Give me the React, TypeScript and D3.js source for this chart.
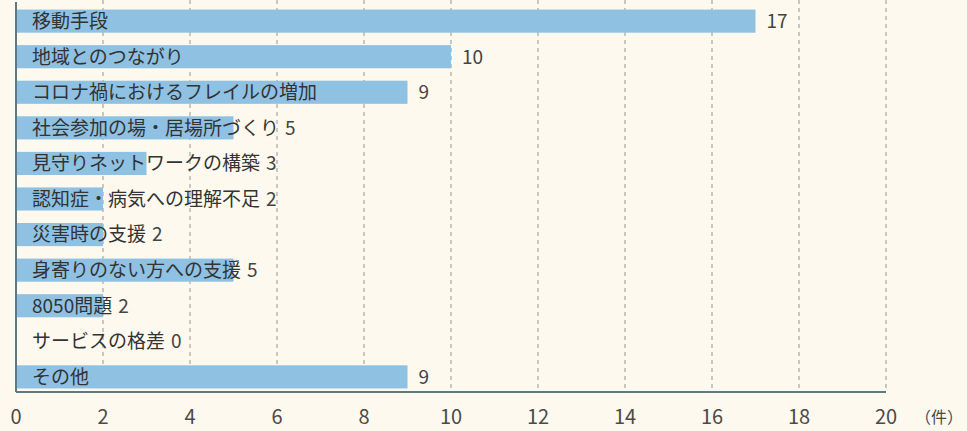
import React, { useEffect, useRef } from "react";
import * as d3 from "d3";

const categories = [
  "移動手段",
  "地域とのつながり",
  "コロナ禍におけるフレイルの増加",
  "社会参加の場・居場所づくり",
  "見守りネットワークの構築",
  "認知症・病気への理解不足",
  "災害時の支援",
  "身寄りのない方への支援",
  "8050問題",
  "サービスの格差",
  "その他",
];
const values = [17, 10, 9, 5, 3, 2, 2, 5, 2, 0, 9];
const xTicks = [0, 2, 4, 6, 8, 10, 12, 14, 16, 18, 20];
const unitLabel = "（件）";

const W = 967;
const H = 431;
const FONT = "'Noto Sans CJK JP', 'Noto Sans', sans-serif";

export default function App() {
  const ref = useRef<SVGSVGElement>(null);

  useEffect(() => {
    const svg = d3.select(ref.current);
    svg.selectAll("*").remove();

    const x = d3.scaleLinear().domain([0, 20]).range([16, 886]);
    const y = d3
      .scaleBand<string>()
      .domain(categories)
      .range([6, 392])
      .paddingInner(0.35)
      .paddingOuter(0.1);

    svg.append("rect").attr("width", W).attr("height", H).attr("fill", "#fdf9ee");

    // gridlines
    svg
      .append("g")
      .selectAll("line")
      .data(xTicks.filter((t) => t > 0))
      .join("line")
      .attr("x1", (d) => x(d))
      .attr("x2", (d) => x(d))
      .attr("y1", 0)
      .attr("y2", 392)
      .attr("stroke", "#a8a8a0")
      .attr("stroke-width", 1.2)
      .attr("stroke-dasharray", "4,4");

    // bars
    svg
      .append("g")
      .selectAll("rect")
      .data(values)
      .join("rect")
      .attr("x", x(0))
      .attr("y", (_d, i) => y(categories[i])!)
      .attr("width", (d) => x(d) - x(0))
      .attr("height", y.bandwidth())
      .attr("fill", "#8fc1e3");

    // axes lines
    svg
      .append("line")
      .attr("x1", x(0))
      .attr("x2", x(0))
      .attr("y1", 2)
      .attr("y2", 392)
      .attr("stroke", "#5d7a82")
      .attr("stroke-width", 2);
    svg
      .append("line")
      .attr("x1", x(0))
      .attr("x2", x(20))
      .attr("y1", 392)
      .attr("y2", 392)
      .attr("stroke", "#5d7a82")
      .attr("stroke-width", 2);

    // category labels and values
    const g = svg.append("g");
    categories.forEach((c, i) => {
      const cy = y(c)! + y.bandwidth() / 2;
      const t = g
        .append("text")
        .attr("x", 32)
        .attr("y", cy)
        .attr("dy", "0.36em")
        .attr("font-family", FONT)
        .attr("font-size", 19)
        .attr("fill", "#333")
        .text(c);
      const len = (t.node() as SVGTextElement).getComputedTextLength();
      const vx = Math.max(x(values[i]) + 11, 32 + len + 6);
      g.append("text")
        .attr("x", vx)
        .attr("y", cy)
        .attr("dy", "0.36em")
        .attr("font-family", FONT)
        .attr("font-size", 19)
        .attr("fill", "#444")
        .text(values[i]);
    });

    // tick labels
    svg
      .append("g")
      .selectAll("text")
      .data(xTicks)
      .join("text")
      .attr("x", (d) => x(d))
      .attr("y", 424)
      .attr("text-anchor", "middle")
      .attr("font-family", FONT)
      .attr("font-size", 20)
      .attr("fill", "#4a4a4a")
      .text((d) => d);

    svg
      .append("text")
      .attr("x", 915)
      .attr("y", 423)
      .attr("font-family", FONT)
      .attr("font-size", 16)
      .attr("fill", "#4a4a4a")
      .text(unitLabel);
  }, []);

  return (
    <div style={{ position: "fixed", left: 0, top: 0, width: W, height: H }}>
      <svg ref={ref} width={W} height={H} style={{ display: "block" }} />
    </div>
  );
}
